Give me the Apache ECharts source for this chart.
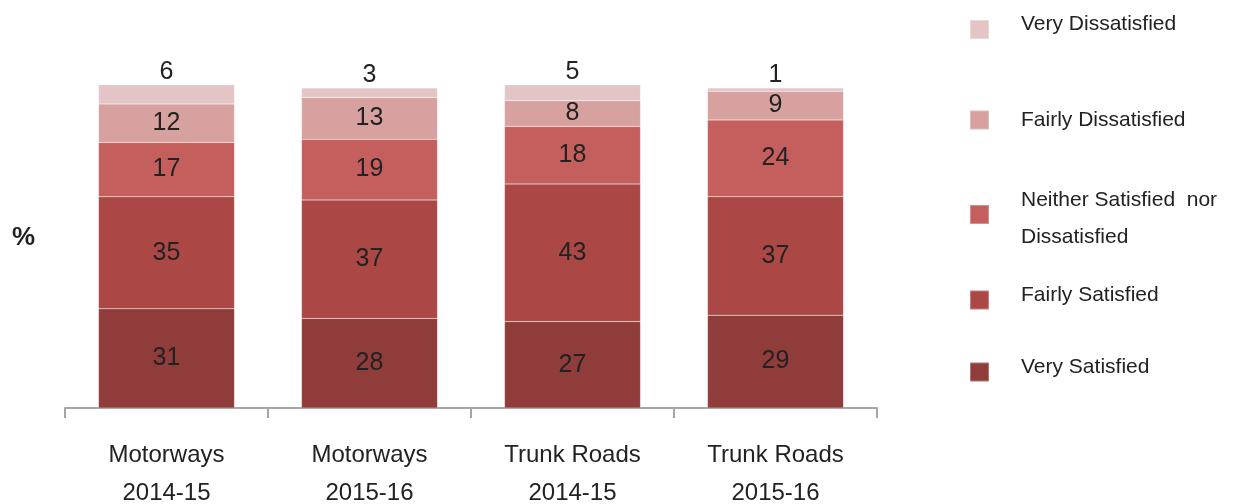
<!DOCTYPE html>
<html>
<head>
<meta charset="utf-8">
<script src="https://cdn.jsdelivr.net/npm/echarts@6/dist/echarts.min.js"></script>
<style>html,body{margin:0;padding:0;background:#fff;}#c{width:1235px;height:504px;}</style>
</head>
<body>
<div id="c"></div>
<script>
const categories = ['Motorways\n2014-15', 'Motorways\n2015-16', 'Trunk Roads\n2014-15', 'Trunk Roads\n2015-16'];
const seriesNames = ['Very Satisfied', 'Fairly Satisfied', 'Neither Satisfied  nor\nDissatisfied', 'Fairly Dissatisfied', 'Very Dissatisfied'];
const verySatisfied = [31, 28, 27, 29];
const fairlySatisfied = [35, 37, 43, 37];
const neither = [17, 19, 18, 24];
const fairlyDissatisfied = [12, 13, 8, 9];
const veryDissatisfied = [6, 3, 5, 1];
const colors = ['#8f3c3a', '#ab4745', '#c55f5d', '#d6a19f', '#e4c5c6'];

const values = [verySatisfied, fairlySatisfied, neither, fairlyDissatisfied, veryDissatisfied];
const FONT = '"Liberation Sans", Arial, sans-serif';

const series = values.map((v, i) => ({
  name: seriesNames[i],
  type: 'bar',
  stack: 'total',
  barWidth: '67%',
  data: v,
  itemStyle: { color: colors[i], borderColor: 'rgba(255,255,255,0.3)', borderWidth: 0.5 },
  label: {
    show: true,
    position: i === 4 ? 'top' : 'inside',
    distance: 0,
    color: '#222',
    fontSize: 25,
    fontFamily: FONT
  }
}));

// legend items top to bottom
const legendOrder = [4, 3, 2, 1, 0];
const iconCentres = [29.5, 120, 214.5, 300, 372];
// spacer lines (px) below (positive) or above (negative) the text to nudge it vertically
const spacers = [10, 0, -8, 10, 10];
const legends = legendOrder.map((si, k) => {
  const lh = si === 2 ? 37 : 24;
  const lines = si === 2 ? 2 : 1;
  const sp = spacers[k];
  const boxH = lh * lines + Math.abs(sp);
  return {
    data: [seriesNames[si]],
    left: 969,
    top: iconCentres[k] - boxH / 2,
    padding: 0,
    orient: 'vertical',
    itemWidth: 19,
    itemHeight: 19,
    itemGap: 0,
    selectedMode: false,
    icon: 'rect',
    formatter: function (name) {
      if (sp > 0) return name + '\n{s| }';
      if (sp < 0) return '{s| }\n' + name;
      return name;
    },
    textStyle: {
      color: '#222',
      fontSize: 21,
      fontFamily: FONT,
      padding: [0, 0, 0, 27],
      lineHeight: lh,
      rich: { s: { fontSize: 2, lineHeight: Math.abs(sp), height: Math.abs(sp) } }
    }
  };
});

const chart = echarts.init(document.getElementById('c'), null, { renderer: 'canvas' });
chart.setOption({
  animation: false,
  grid: { left: 65, right: 358, top: 56, bottom: 96, containLabel: false, outerBoundsMode: 'none' },
  legend: legends,
  graphic: [{
    type: 'text',
    left: 12,
    top: 225,
    style: { text: '%', fontSize: 26, fontWeight: 'bold', fill: '#222', fontFamily: FONT }
  }],
  xAxis: {
    type: 'category',
    data: categories,
    axisLine: { lineStyle: { color: '#a6a6a6', width: 2 } },
    axisTick: { show: true, length: 10, lineStyle: { color: '#a6a6a6', width: 2 } },
    axisLabel: { color: '#222', fontSize: 24, fontFamily: FONT, lineHeight: 38, margin: 28 }
  },
  yAxis: {
    type: 'value',
    min: 0,
    max: 110,
    show: false,
    splitLine: { show: false }
  },
  series: series
});
</script>
</body>
</html>
